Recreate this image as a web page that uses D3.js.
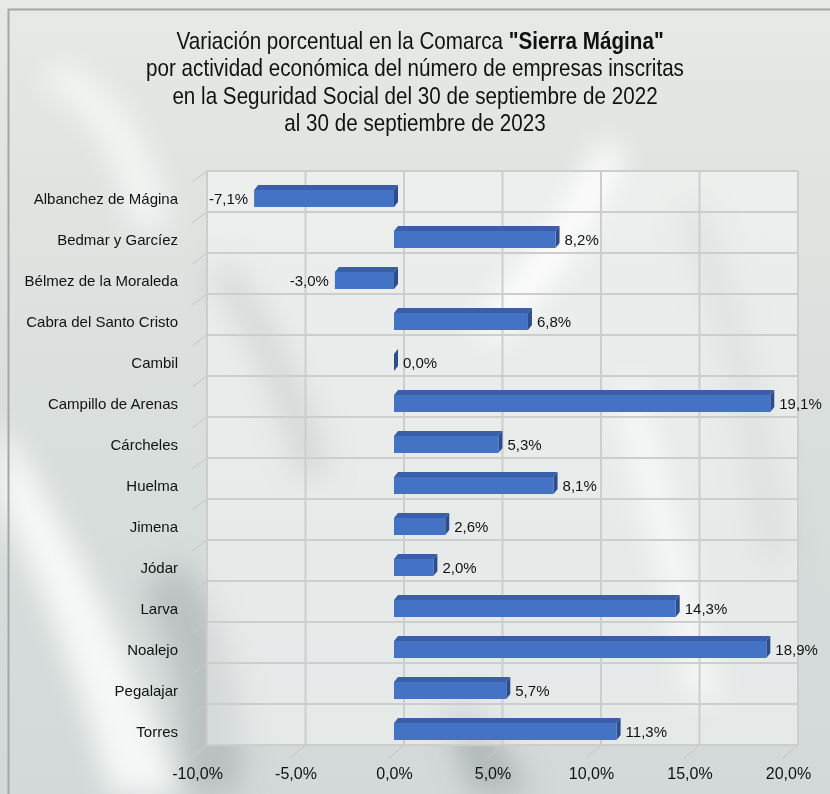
<!DOCTYPE html>
<html>
<head>
<meta charset="utf-8">
<script src="https://cdn.jsdelivr.net/npm/d3@7"></script>
<style>
  html, body { margin: 0; padding: 0; background: #d6dddc; }
  svg { display: block; }
</style>
</head>
<body>
<div id="chart"></div>
<script>
// Municipios de la comarca y su variación porcentual (sep 2022 → sep 2023)
const municipios = [
  "Albanchez de Mágina", "Bedmar y Garcíez", "Bélmez de la Moraleda",
  "Cabra del Santo Cristo", "Cambil", "Campillo de Arenas", "Cárcheles",
  "Huelma", "Jimena", "Jódar", "Larva", "Noalejo", "Pegalajar", "Torres"
];
const variacion = [-7.1, 8.2, -3.0, 6.8, 0.0, 19.1, 5.3, 8.1, 2.6, 2.0, 14.3, 18.9, 5.7, 11.3];
const ticksX = [-10, -5, 0, 5, 10, 15, 20];
const tituloLineas = [
  ["Variación porcentual en la Comarca ", "\"Sierra Mágina\""],
  ["por actividad económica del número de empresas inscritas"],
  ["en la Seguridad Social del 30 de septiembre de 2022"],
  ["al 30 de septiembre de 2023"]
];

const W = 830, H = 794;
const fmt = v => v.toFixed(1).replace(".", ",") + "%";
const FONT = "'Liberation Sans', Arial, sans-serif";

const svg = d3.select("#chart").append("svg")
  .attr("width", W).attr("height", H);

const defs = svg.append("defs");
defs.append("filter").attr("id", "soft")
  .attr("x", "-30%").attr("y", "-30%").attr("width", "160%").attr("height", "160%")
  .append("feGaussianBlur").attr("stdDeviation", 14);

const bgGrad = defs.append("linearGradient").attr("id", "bgGrad")
  .attr("x1", 0).attr("y1", 0).attr("x2", 0).attr("y2", 1);
bgGrad.append("stop").attr("offset", 0).attr("stop-color", "#e6e9e5");
bgGrad.append("stop").attr("offset", 0.45).attr("stop-color", "#dbe0de");
bgGrad.append("stop").attr("offset", 1).attr("stop-color", "#d2d9d8");

// Fondo: tonos grises suaves con hojas desenfocadas
const bg = svg.append("g");
bg.append("rect").attr("width", W).attr("height", H).attr("fill", "url(#bgGrad)");
const hojas = bg.append("g").attr("filter", "url(#soft)");
hojas.append("path")   // hojas oscuras
  .attr("d", "M230,260 C260,300 300,360 330,470 L300,480 C270,380 240,320 210,280 Z")
  .attr("fill", "#a2aaa9").attr("opacity", 0.6);
hojas.append("path")
  .attr("d", "M180,560 C230,620 250,700 240,794 L180,794 C190,700 170,640 140,590 Z")
  .attr("fill", "#a0a8a7").attr("opacity", 0.5);
hojas.append("path")
  .attr("d", "M470,700 C500,740 520,770 530,794 L470,794 C460,760 450,730 440,710 Z")
  .attr("fill", "#98a1a0").attr("opacity", 0.55);
hojas.append("path")
  .attr("d", "M700,200 C740,300 770,420 790,560 L760,560 C745,430 720,320 680,220 Z")
  .attr("fill", "#aab2b1").attr("opacity", 0.4);
hojas.append("path")   // hojas claras
  .attr("d", "M600,140 C570,210 520,270 470,330 L500,340 C560,280 600,220 625,150 Z")
  .attr("fill", "#ffffff").attr("opacity", 0.9);
hojas.append("path")
  .attr("d", "M0,420 C60,520 120,620 180,794 L110,794 C70,650 30,560 0,500 Z")
  .attr("fill", "#ffffff").attr("opacity", 0.8);
hojas.append("path")
  .attr("d", "M640,380 C660,460 690,560 720,700 L690,700 C660,560 630,470 615,390 Z")
  .attr("fill", "#ffffff").attr("opacity", 0.7);
hojas.append("path")
  .attr("d", "M60,60 C120,90 160,150 170,230 L130,230 C120,160 90,110 40,80 Z")
  .attr("fill", "#ffffff").attr("opacity", 0.6);

// Marco del gráfico
svg.append("path")
  .attr("d", `M8.5,${H} L8.5,9.5 L${W},9.5`)
  .attr("fill", "none").attr("stroke", "#a6a6a6").attr("stroke-width", 2);

// Escalas (plano frontal de las barras)
const x = d3.scaleLinear().domain([-10, 20]).range([197, 788]);
const y = d3.scaleBand().domain(municipios).range([178, 752]);
// desplazamiento de la pared posterior y profundidad de las barras
const wallDx = 10, wallDy = -7;
const depthX = 4, depthY = -5;
const barH = 17;

// Pared posterior con cuadrícula
const wall = svg.append("g");
const wx0 = x(-10) + wallDx, wx1 = x(20) + wallDx;
const wy0 = y.range()[0] + wallDy, wy1 = y.range()[1] + wallDy;
wall.append("rect")
  .attr("x", wx0).attr("y", wy0).attr("width", wx1 - wx0).attr("height", wy1 - wy0)
  .attr("fill", "#ffffff").attr("opacity", 0.4);

const hLines = municipios.map(m => y(m)).concat([y.range()[1]]);
wall.selectAll("line.h").data(hLines).join("line")
  .attr("x1", wx0).attr("x2", wx1)
  .attr("y1", d => d + wallDy).attr("y2", d => d + wallDy)
  .attr("stroke", "#cdcdcd").attr("stroke-width", 2);
wall.selectAll("line.v").data(ticksX).join("line")
  .attr("x1", d => x(d) + wallDx).attr("x2", d => x(d) + wallDx)
  .attr("y1", wy0).attr("y2", wy1)
  .attr("stroke", "#cdcdcd").attr("stroke-width", 2);

// Marcas diagonales de los ejes (suelo y pared lateral)
wall.selectAll("line.tl").data(hLines).join("line")
  .attr("x1", wx0).attr("y1", d => d + wallDy)
  .attr("x2", wx0 - 15).attr("y2", d => d + wallDy + 11)
  .attr("stroke", "#c8c8c8").attr("stroke-width", 1.6).attr("stroke-dasharray", "1.5,0.8");
wall.selectAll("line.tb").data(ticksX).join("line")
  .attr("x1", d => x(d) + wallDx).attr("y1", wy1)
  .attr("x2", d => x(d) + wallDx - 15).attr("y2", wy1 + 13)
  .attr("stroke", "#c8c8c8").attr("stroke-width", 1.6).attr("stroke-dasharray", "1.5,0.8");

// Barras 3D
const data = municipios.map((m, i) => ({ m, v: variacion[i] }));
const bars = svg.append("g").selectAll("g.bar").data(data).join("g");
bars.each(function (d) {
  const g = d3.select(this);
  const xa = Math.min(x(0), x(d.v)), xb = Math.max(x(0), x(d.v));
  const yc = y(d.m) + y.bandwidth() / 2;
  const top = yc - barH / 2, bot = yc + barH / 2;
  // cara superior
  g.append("path")
    .attr("d", `M${xa},${top} L${xa + depthX},${top + depthY} L${xb + depthX},${top + depthY} L${xb},${top} Z`)
    .attr("fill", "#3a5fa8");
  // cara lateral
  g.append("path")
    .attr("d", `M${xb},${top} L${xb + depthX},${top + depthY} L${xb + depthX},${bot + depthY} L${xb},${bot} Z`)
    .attr("fill", "#2c4c8c");
  // cara frontal
  g.append("rect")
    .attr("x", xa).attr("y", top).attr("width", xb - xa).attr("height", barH)
    .attr("fill", "#4472c4");
  // etiqueta de valor
  g.append("text")
    .attr("x", d.v < 0 ? xa - 6 : xb + depthX + 5)
    .attr("y", yc)
    .attr("dy", "0.35em")
    .attr("text-anchor", d.v < 0 ? "end" : "start")
    .attr("font-family", FONT)
    .attr("font-size", 15)
    .attr("fill", "#111")
    .text(fmt(d.v));
});

// Etiquetas de categoría
svg.append("g").selectAll("text").data(municipios).join("text")
  .attr("x", 178)
  .attr("y", d => y(d) + y.bandwidth() / 2)
  .attr("dy", "0.35em")
  .attr("text-anchor", "end")
  .attr("font-family", FONT)
  .attr("font-size", 15)
  .attr("fill", "#111")
  .text(d => d);

// Eje X
const xAxis = svg.append("g")
  .attr("transform", "translate(0,768)")
  .call(d3.axisBottom(x).tickValues(ticksX).tickFormat(fmt).tickSize(0).tickPadding(0));
xAxis.select(".domain").remove();
xAxis.selectAll("text")
  .attr("font-family", FONT)
  .attr("font-size", 16)
  .attr("fill", "#111");

// Título (tipografía condensada mediante escalado horizontal)
const title = svg.append("g")
  .attr("transform", "translate(415,0) scale(0.86,1)");
tituloLineas.forEach((partes, i) => {
  const t = title.append("text")
    .attr("x", i === 0 ? 6 : 0).attr("y", 49 + i * 27.5)
    .attr("text-anchor", "middle")
    .attr("font-family", FONT)
    .attr("font-size", 24)
    .attr("fill", "#111");
  partes.forEach((p, j) => {
    t.append("tspan").attr("font-weight", j === 1 ? "bold" : "normal").text(p);
  });
});
</script>
</body>
</html>
